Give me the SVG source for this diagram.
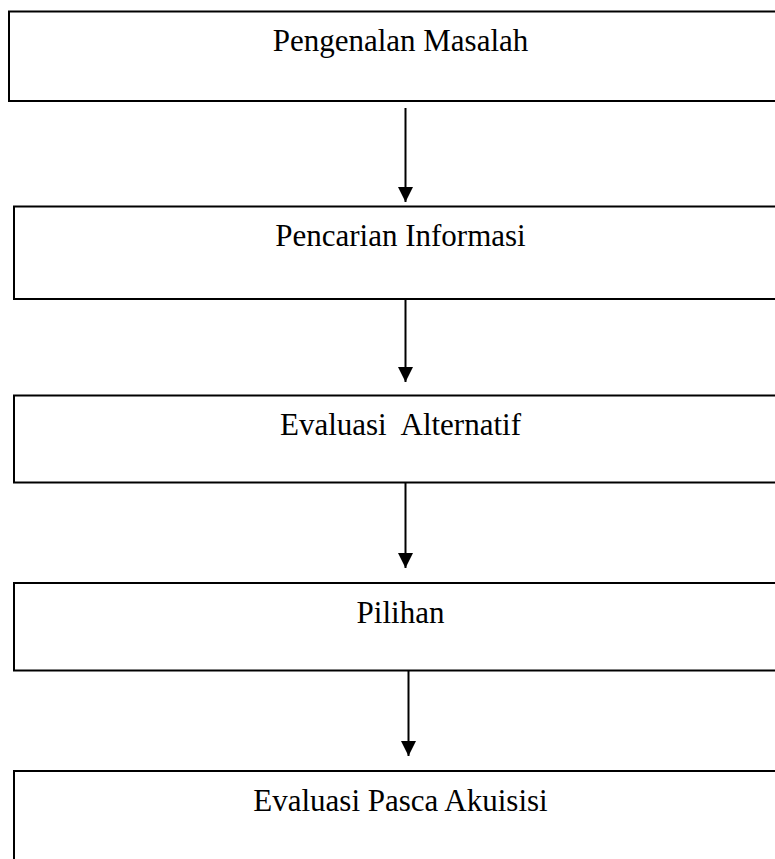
<svg xmlns="http://www.w3.org/2000/svg" width="775" height="859" viewBox="0 0 775 859">
<style>
.box{fill:#fff;stroke:#000;stroke-width:2}
.lbl{font-family:"Liberation Serif","Times New Roman",serif;font-size:31px;fill:#000;text-anchor:middle;white-space:pre}
.conn{stroke:#000;stroke-width:2;fill:none;marker-end:url(#arr)}
</style>
<defs>
<marker id="arr" markerUnits="userSpaceOnUse" markerWidth="16" markerHeight="16" refX="15" refY="7.5" orient="auto">
<path d="M0,0 L15,7.5 L0,15 z" fill="#000"/>
</marker>
</defs>
<rect width="775" height="859" fill="#fff"/>
<g id="n1"><rect class="box" x="9" y="11.5" width="800" height="89.5"/><text class="lbl" x="400.5" y="51">Pengenalan Masalah</text></g>
<g id="n2"><rect class="box" x="14" y="206.5" width="800" height="92.5"/><text class="lbl" x="400.5" y="246">Pencarian Informasi</text></g>
<g id="n3"><rect class="box" x="14" y="395.5" width="800" height="87"/><text class="lbl" x="400.5" y="435" xml:space="preserve">Evaluasi  Alternatif</text></g>
<g id="n4"><rect class="box" x="14" y="583" width="800" height="87.5"/><text class="lbl" x="400.5" y="623">Pilihan</text></g>
<g id="n5"><rect class="box" x="14" y="771" width="800" height="120"/><text class="lbl" x="400.5" y="811">Evaluasi Pasca Akuisisi</text></g>
<g id="connectors">
<line class="conn" x1="405.5" y1="108" x2="405.5" y2="202"/>
<line class="conn" x1="405.5" y1="299" x2="405.5" y2="382"/>
<line class="conn" x1="405.5" y1="482.5" x2="405.5" y2="568"/>
<line class="conn" x1="408.5" y1="670.5" x2="408.5" y2="756"/>
</g>
</svg>
